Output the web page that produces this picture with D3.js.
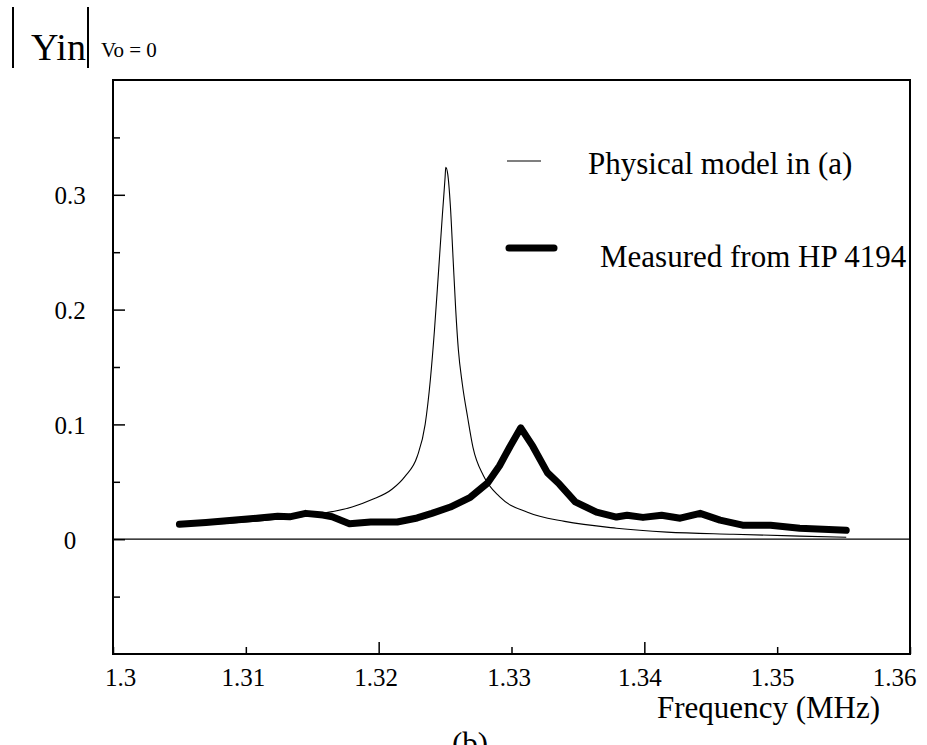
<!DOCTYPE html>
<html>
<head>
<meta charset="utf-8">
<script src="https://cdn.jsdelivr.net/npm/d3@7"></script>
<style>
  body { margin: 0; background: #fff; }
  svg { display: block; font-family: "Liberation Serif", "Times New Roman", serif; }
  svg text { font-family: "Liberation Serif", "Times New Roman", serif !important; fill: #000; }
</style>
</head>
<body>
<div id="chart"></div>
<script>
// physical model in (a), thin line
const freqModel = [1.3050, 1.3080, 1.3110, 1.3130, 1.3150, 1.3165, 1.3180, 1.3195, 1.3210, 1.3220,
    1.3229, 1.3235, 1.3239, 1.3242, 1.3245, 1.3248, 1.3250, 1.32505, 1.3252, 1.3254, 1.3256,
    1.3258, 1.3260, 1.3263, 1.3267, 1.3271, 1.3279, 1.3291, 1.3312, 1.3340, 1.3379, 1.3417,
    1.3467, 1.3517, 1.3552];
const yinModel = [0.0120, 0.0135, 0.0160, 0.0180, 0.0210, 0.0240, 0.0280, 0.0345, 0.0435, 0.0550,
    0.0720, 0.1000, 0.1400, 0.1820, 0.2320, 0.2830, 0.3150, 0.3240, 0.3180, 0.2900, 0.2450,
    0.2000, 0.1650, 0.1350, 0.1060, 0.0800, 0.0550, 0.0370, 0.0235, 0.0155, 0.0096, 0.0062,
    0.0043, 0.0027, 0.0017];

// measured from HP 4194, thick line
const freqMeasured = [1.3050, 1.3070, 1.3090, 1.3110, 1.3124, 1.3133, 1.3145, 1.3158, 1.3165, 1.3178,
    1.3194, 1.3214, 1.3229, 1.3240, 1.3254, 1.3269, 1.3282, 1.3291, 1.3299, 1.3307, 1.3316,
    1.3327, 1.3336, 1.3348, 1.3364, 1.3379, 1.3387, 1.3399, 1.3413, 1.3427, 1.3442, 1.3457,
    1.3474, 1.3495, 1.3517, 1.3552];
const yinMeasured = [0.0130, 0.0145, 0.0165, 0.0185, 0.0200, 0.0195, 0.0225, 0.0210, 0.0195, 0.0135,
    0.0150, 0.0150, 0.0185, 0.0225, 0.0280, 0.0365, 0.0490, 0.0640, 0.0810, 0.0970, 0.0810,
    0.0580, 0.0480, 0.0325, 0.0235, 0.0193, 0.0209, 0.0190, 0.0209, 0.0183, 0.0225, 0.0166,
    0.0122, 0.0122, 0.0095, 0.0078];

const seriesNames = ["Physical model in (a)", "Measured from HP 4194"];

const xTickValues = [1.30, 1.31, 1.32, 1.33, 1.34, 1.35, 1.36];
const xTickLabels = ["1.3", "1.31", "1.32", "1.33", "1.34", "1.35", "1.36"];
const xMajorTicks = [1.32, 1.34];

const yTickValues = [-0.05, 0, 0.05, 0.1, 0.15, 0.2, 0.25, 0.3, 0.35];
const yLabelValues = [0, 0.1, 0.2, 0.3];
const yTickLabels = ["0", "0.1", "0.2", "0.3"];

function drawChart() {

    //#region dimentions
    let dimentions = {
        width: 927,
        height: 745,
        margin: { left: 113, right: 17, top: 80, bottom: 91 }
    };
    dimentions.boundedWidth = dimentions.width - dimentions.margin.left - dimentions.margin.right;
    dimentions.boundedHeight = dimentions.height - dimentions.margin.top - dimentions.margin.bottom;
    //#endregion

    const svg = d3.select("#chart")
        .append("svg")
        .attr("width", dimentions.width)
        .attr("height", dimentions.height);

    const bounds = svg.append("g")
        .attr("transform", `translate(${dimentions.margin.left},${dimentions.margin.top})`);

    const xScale = d3.scaleLinear()
        .domain([1.3, 1.36])
        .range([0, dimentions.boundedWidth]);

    const yScale = d3.scaleLinear()
        .domain([-0.1, 0.4])
        .range([dimentions.boundedHeight, 0]);

    //#region x axis
    const gX = bounds.append("g")
        .attr("transform", `translate(0,${dimentions.boundedHeight})`)
        .call(d3.axisBottom(xScale)
            .tickValues(xTickValues)
            .tickSizeInner(-7)
            .tickSizeOuter(0)
            .tickPadding(14)
            .tickFormat((d, i) => xTickLabels[i]));
    gX.attr("font-family", null).attr("font-size", null);
    gX.select(".domain").remove();
    gX.selectAll(".tick line")
        .attr("stroke", "#000")
        .attr("stroke-width", 1.5)
        .attr("y2", d => xMajorTicks.some(v => Math.abs(v - d) < 1e-9) ? -12 : -7);
    gX.selectAll(".tick text")
        .style("font-size", "25px")
        .attr("dx", (d, i) => i === 0 ? 7 : (i === xTickValues.length - 1 ? -16 : (i >= 4 ? -5 : -3)));
    //#endregion

    //#region y axis
    const gY = bounds.append("g")
        .call(d3.axisLeft(yScale)
            .tickValues(yTickValues)
            .tickSizeInner(-7)
            .tickSizeOuter(0)
            .tickFormat(d => {
                const k = yLabelValues.findIndex(v => Math.abs(v - d) < 1e-9);
                return k >= 0 ? yTickLabels[k] : "";
            }));
    gY.attr("font-family", null).attr("font-size", null);
    gY.select(".domain").remove();
    gY.selectAll(".tick line")
        .attr("stroke", "#000")
        .attr("stroke-width", 1.5)
        .attr("x2", d => yLabelValues.some(v => Math.abs(v - d) < 1e-9) ? 12 : 7);
    gY.selectAll(".tick text")
        .style("font-size", "25px")
        .attr("text-anchor", "middle")
        .attr("x", -43)
        .attr("dy", 9);
    //#endregion

    // frame
    bounds.append("rect")
        .attr("x", 0)
        .attr("y", 0)
        .attr("width", dimentions.boundedWidth)
        .attr("height", dimentions.boundedHeight)
        .attr("fill", "none")
        .attr("stroke", "#000")
        .attr("stroke-width", 2);

    // zero line
    bounds.append("line")
        .attr("x1", xScale(1.3))
        .attr("x2", xScale(1.36))
        .attr("y1", yScale(0))
        .attr("y2", yScale(0))
        .attr("stroke", "#000")
        .attr("stroke-width", 1.2);

    //#region curves
    const modelData = freqModel.map((f, i) => [f, yinModel[i]]);
    const measuredData = freqMeasured.map((f, i) => [f, yinMeasured[i]]);

    const modelLine = d3.line()
        .x(d => xScale(d[0]))
        .y(d => yScale(d[1]))
        .curve(d3.curveMonotoneX);

    const measuredLine = d3.line()
        .x(d => xScale(d[0]))
        .y(d => yScale(d[1]));

    bounds.append("path")
        .datum(modelData)
        .attr("d", modelLine)
        .attr("fill", "none")
        .attr("stroke", "#000")
        .attr("stroke-width", 1.1);

    bounds.append("path")
        .datum(measuredData)
        .attr("d", measuredLine)
        .attr("fill", "none")
        .attr("stroke", "#000")
        .attr("stroke-width", 7)
        .attr("stroke-linejoin", "round")
        .attr("stroke-linecap", "round");
    //#endregion

    //#region legend
    const legend = svg.append("g");
    legend.append("line")
        .attr("x1", 507).attr("x2", 541)
        .attr("y1", 161).attr("y2", 161)
        .attr("stroke", "#000").attr("stroke-width", 1.1);
    legend.append("text")
        .attr("x", 588).attr("y", 174)
        .style("font-size", "31px")
        .text(seriesNames[0]);
    legend.append("line")
        .attr("x1", 509).attr("x2", 554)
        .attr("y1", 248).attr("y2", 248)
        .attr("stroke", "#000").attr("stroke-width", 7)
        .attr("stroke-linecap", "round");
    legend.append("text")
        .attr("x", 600).attr("y", 267)
        .style("font-size", "31px")
        .text(seriesNames[1]);
    //#endregion

    //#region titles
    svg.append("line")
        .attr("x1", 13).attr("x2", 13).attr("y1", 7).attr("y2", 68)
        .attr("stroke", "#000").attr("stroke-width", 2);
    svg.append("text")
        .attr("x", 31).attr("y", 60)
        .style("font-size", "38px")
        .text("Yin");
    svg.append("line")
        .attr("x1", 88).attr("x2", 88).attr("y1", 7).attr("y2", 68)
        .attr("stroke", "#000").attr("stroke-width", 2);
    svg.append("text")
        .attr("x", 101).attr("y", 57)
        .style("font-size", "21px")
        .text("Vo = 0");

    svg.append("text")
        .attr("x", 880).attr("y", 718)
        .attr("text-anchor", "end")
        .style("font-size", "31px")
        .text("Frequency (MHz)");

    svg.append("text")
        .attr("x", 470).attr("y", 754)
        .attr("text-anchor", "middle")
        .style("font-size", "31px")
        .text("(b)");
    //#endregion
}
drawChart();
</script>
</body>
</html>
